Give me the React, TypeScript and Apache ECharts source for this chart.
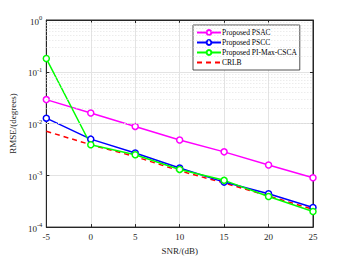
import React, { useEffect, useRef } from "react";
import * as echarts from "echarts";

const snr = [-5, 0, 5, 10, 15, 20, 25];
const psac = [0.029, 0.016, 0.0088, 0.0048, 0.00284, 0.00158, 0.0009];
const pscc = [0.0127, 0.005, 0.0027, 0.00138, 0.00074, 0.00044, 0.00024];
const piMax = [0.18, 0.0039, 0.0025, 0.0013, 0.0008, 0.00039, 0.0002];
const crlb = [0.0071, 0.0039, 0.0023, 0.00122, 0.00071, 0.0004, 0.00022];
const seriesNames = ["Proposed PSAC", "Proposed PSCC", "Proposed PI-Max-CSCA", "CRLB"];
const decades = [-4, -3, -2, -1];
const minorValues: number[] = [];
decades.forEach((d) => {
  for (let m = 2; m <= 9; m++) minorValues.push(m * Math.pow(10, d));
});

const FONT = "Liberation Serif";
const TXT = "#262626";

export default function App() {
  const ref = useRef<HTMLDivElement>(null);
  useEffect(() => {
    const chart = echarts.init(ref.current!, null, { renderer: "svg" });
    const mk = (name: string, data: number[], color: string, dashed = false) => ({
      name,
      type: "line",
      data: snr.map((x, i) => [x, data[i]]),
      symbol: dashed ? "none" : "circle",
      symbolSize: 6,
      showSymbol: !dashed,
      itemStyle: { color: "#fff", borderColor: color, borderWidth: 1.5 },
      lineStyle: { color, width: 1.5, type: dashed ? [5, 4] : "solid" },
      emphasis: { disabled: true },
      z: dashed ? 3 : 4,
    });
    chart.setOption({
      animation: false,
      backgroundColor: "#fff",
      textStyle: { fontFamily: FONT },
      grid: { left: 45, right: 33, top: 20, bottom: 29, show: true, borderColor: "#262626", borderWidth: 1, backgroundColor: "#fff" },
      legend: {
        orient: "vertical",
        left: 193,
        top: 25,
        itemWidth: 24,
        itemHeight: 6,
        itemGap: 1,
        padding: [3, 3, 3, 3],
        backgroundColor: "#fff",
        borderColor: "#262626",
        borderWidth: 0.8,
        textStyle: { fontFamily: FONT, fontSize: 7.5, lineHeight: 9, color: "#000", padding: [0, 0, 0, -4] },
        data: seriesNames.map((n, i) =>
          i === 3 ? { name: n, itemStyle: { opacity: 0, borderWidth: 0, color: "transparent" } } : { name: n }
        ),
      },
      xAxis: [
        {
          type: "value",
          min: -5,
          max: 25,
          interval: 5,
          position: "bottom",
          name: "SNR/(dB)",
          nameLocation: "middle",
          nameGap: 15,
          nameTextStyle: { fontFamily: FONT, fontSize: 9, color: TXT },
          axisLine: { onZero: false, lineStyle: { color: TXT } },
          axisTick: { inside: true, length: 3, lineStyle: { color: TXT } },
          axisLabel: { fontFamily: FONT, fontSize: 9, color: TXT, margin: 5 },
          splitLine: { show: true, lineStyle: { color: "#e3e3e3", width: 1 } },
        },
        {
          type: "value",
          min: -5,
          max: 25,
          interval: 5,
          position: "top",
          axisLine: { onZero: false, lineStyle: { color: TXT } },
          axisTick: { inside: true, length: 3, lineStyle: { color: TXT } },
          axisLabel: { show: false },
          splitLine: { show: false },
        },
      ],
      yAxis: [
        {
          type: "log",
          logBase: 10,
          min: 1e-4,
          max: 1,
          position: "left",
          name: "RMSE/(degrees)",
          nameLocation: "middle",
          nameGap: 22,
          nameTextStyle: { fontFamily: FONT, fontSize: 9, color: TXT },
          axisLine: { show: true, onZero: false, lineStyle: { color: TXT } },
          axisTick: { inside: true, length: 3, lineStyle: { color: TXT } },
          axisLabel: {
            margin: 4,
            formatter: (v: number) => `{b|10}{e|${Math.round(Math.log10(v))}}`,
            rich: {
              b: { fontFamily: FONT, fontSize: 9, color: TXT, verticalAlign: "bottom", lineHeight: 12 },
              e: { fontFamily: FONT, fontSize: 6.5, color: TXT, verticalAlign: "top", lineHeight: 12, padding: [0, 0, 6, 0] },
            },
          },
          splitLine: { show: true, lineStyle: { color: "#e3e3e3", width: 1 } },
        },
        {
          type: "log",
          logBase: 10,
          min: 1e-4,
          max: 1,
          position: "right",
          axisLine: { show: true, onZero: false, lineStyle: { color: TXT } },
          axisTick: { inside: true, length: 3, lineStyle: { color: TXT } },
          axisLabel: { show: false },
          splitLine: { show: false },
        },
      ],
      series: [
        {
          name: "minor",
          type: "line",
          data: [],
          silent: true,
          markLine: {
            silent: true,
            symbol: "none",
            label: { show: false },
            lineStyle: { color: "#dcdcdc", type: [1, 2], width: 0.8 },
            data: minorValues.map((v) => ({ yAxis: v })),
          },
          z: 1,
        },
        mk(seriesNames[0], psac, "#ff00ff"),
        mk(seriesNames[1], pscc, "#0000ff"),
        mk(seriesNames[2], piMax, "#00ff00"),
        mk(seriesNames[3], crlb, "#ff0000", true),
      ],
    });
    return () => chart.dispose();
  }, []);
  return <div ref={ref} style={{ position: "fixed", left: 0, top: 0, width: 346, height: 260 }} />;
}
